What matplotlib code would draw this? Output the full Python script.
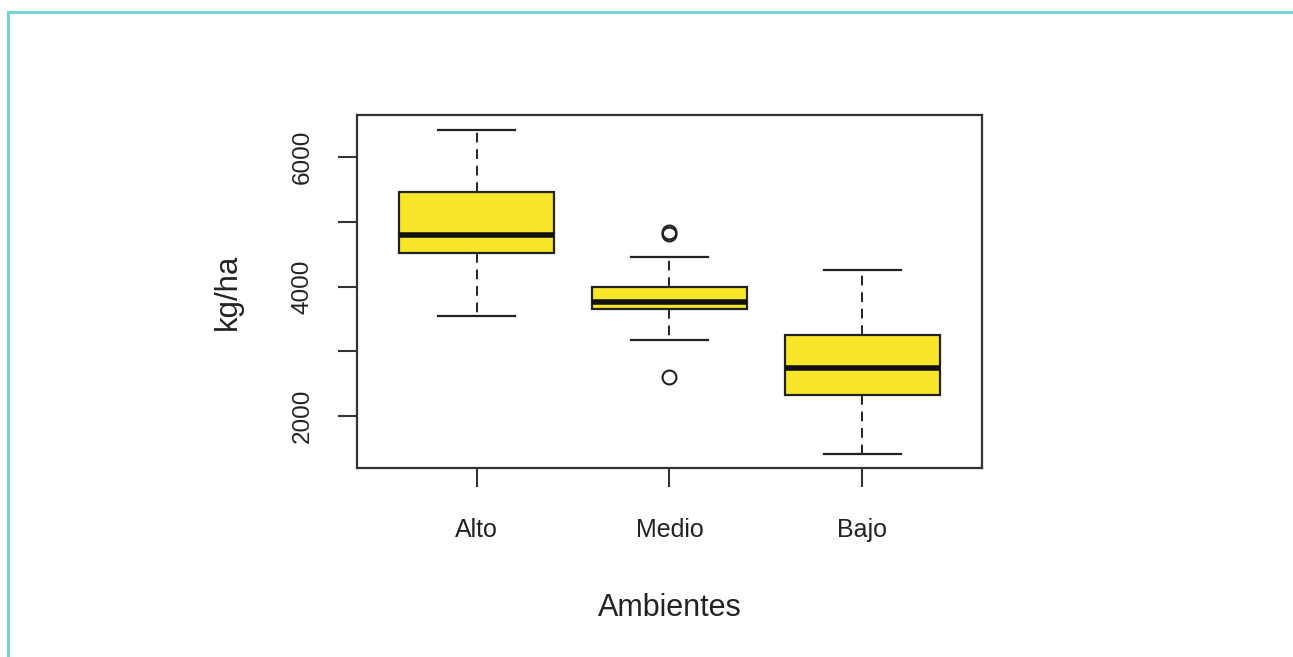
import matplotlib
matplotlib.use("Agg")
import matplotlib.pyplot as plt
from matplotlib.lines import Line2D

plt.rcParams['font.family'] = ['Liberation Sans', 'DejaVu Sans']

categories = ["Alto", "Medio", "Bajo"]
whislo = [3550, 3180, 1410]
q1 = [4515, 3660, 2325]
median = [4795, 3765, 2735]
q3 = [5455, 4000, 3245]
whishi = [6415, 4460, 4250]
fliers = [[], [4810, 4840, 2595], []]
yticks = [2000, 3000, 4000, 5000, 6000]
ytick_labels = ["2000", "", "4000", "", "6000"]

W, H = 1293, 657
fig = plt.figure(figsize=(W / 100, H / 100), dpi=100)
fig.patch.set_facecolor("white")

ax = fig.add_axes([357 / W, 1 - 468 / H, (982 - 357) / W, (468 - 115) / H])

stats = []
for i, name in enumerate(categories):
    stats.append(dict(label=name, med=median[i], q1=q1[i], q3=q3[i],
                      whislo=whislo[i], whishi=whishi[i], fliers=fliers[i]))

edge = "#222222"
ax.bxp(stats, positions=[1, 2, 3], widths=0.8, patch_artist=True,
       boxprops=dict(facecolor="#F7E62A", edgecolor=edge, linewidth=1.6),
       medianprops=dict(color="#111111", linewidth=4.0, solid_capstyle="butt"),
       whiskerprops=dict(color=edge, linewidth=1.4, linestyle=(0, (5, 3.5))),
       capprops=dict(color=edge, linewidth=1.6),
       capwidths=0.4,
       flierprops=dict(marker="o", markersize=10, markerfacecolor="none",
                       markeredgecolor=edge, markeredgewidth=1.5))

ax.set_xlim(0.38, 3.62)
ymin = 2000 - (468 - 416) / 129.5 * 2000
ymax = 6000 + (157 - 115) / 129.5 * 2000
ax.set_ylim(ymin, ymax)

ax.set_yticks(yticks)
ax.set_yticklabels(ytick_labels, rotation=90, va="center", fontsize=17.5, color="#222222")
ax.set_xticks([1, 2, 3])
ax.set_xticklabels(categories, fontsize=18, color="#222222")
ax.tick_params(axis="y", length=14, width=1.5, pad=17, colors="#333333", labelcolor="#222222")
ax.tick_params(axis="x", length=14, width=1.5, pad=22, colors="#333333", labelcolor="#222222")
for s in ax.spines.values():
    s.set_color("#333333")
    s.set_linewidth(1.6)

fig.text(670 / W, 1 - 608 / H, "Ambientes", ha="center", va="center",
         fontsize=22, color="#222222")
fig.text(228 / W, 1 - 292 / H, "kg/ha", ha="center", va="center",
         fontsize=22.5, color="#222222", rotation=90)

# decorative teal frame (top and left edges)
teal = "#78D2D6"
fig.add_artist(Line2D([8 / W, 1.0], [1 - 12 / H, 1 - 12 / H], color=teal,
                      linewidth=2.2, transform=fig.transFigure))
fig.add_artist(Line2D([8 / W, 8 / W], [0, 1 - 12 / H], color=teal,
                      linewidth=2.2, transform=fig.transFigure))

fig.savefig("out.png", dpi=100, facecolor="white")
